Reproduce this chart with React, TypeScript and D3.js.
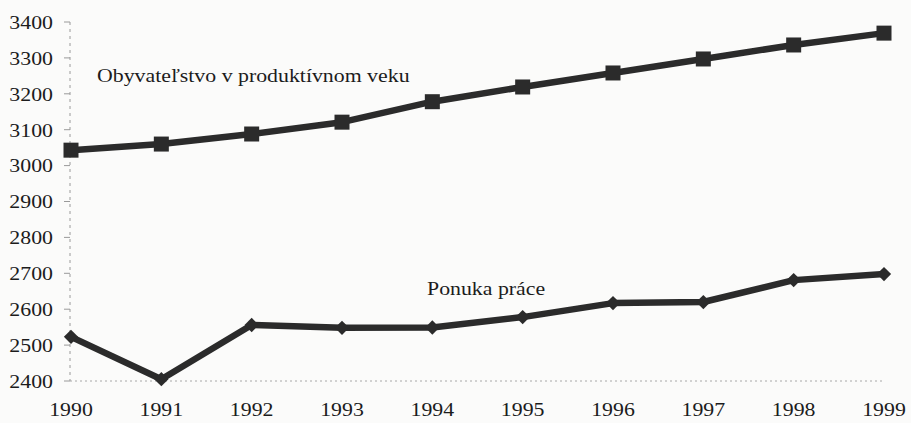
import React from "react";
import * as d3 from "d3";

const years = [1990, 1991, 1992, 1993, 1994, 1995, 1996, 1997, 1998, 1999];
const population = [3043, 3060, 3088, 3121, 3178, 3219, 3258, 3297, 3336, 3369];
const laborSupply = [2523, 2405, 2556, 2548, 2549, 2578, 2617, 2620, 2681, 2698];
const yTicks = [2400, 2500, 2600, 2700, 2800, 2900, 3000, 3100, 3200, 3300, 3400];
const populationLabel = "Obyvateľstvo v produktívnom veku";
const laborLabel = "Ponuka práce";

const W = 911;
const H = 423;
const SX = 1.12;

export default function App() {
  const x = d3.scaleLinear().domain([1990, 1999]).range([71, 884]);
  const y = d3.scaleLinear().domain([2400, 3400]).range([381, 22]);
  const line = d3
    .line<number>()
    .x((_, i) => x(years[i]))
    .y((d) => y(d));
  const font = "Liberation Serif";
  const ink = "#2b2b2b";
  const txt = "#1c1c1c";
  const diamond = d3.symbol().type(d3.symbolDiamond2).size(130)();

  return (
    <div style={{ position: "absolute", left: 0, top: 0 }}>
      <svg width={W} height={H} style={{ display: "block", background: "#fbfbfa" }}>
        {/* axes */}
        <line x1={70} x2={70} y1={y(3400)} y2={y(2400)} stroke="#9a9a9a" strokeWidth={1} strokeDasharray="3,4" />
        <line x1={70} x2={884} y1={y(2400)} y2={y(2400)} stroke="#a8a8a8" strokeWidth={1} strokeDasharray="2,3" />
        {yTicks.map((t) => (
          <g key={t}>
            <line x1={64} x2={70} y1={y(t)} y2={y(t)} stroke="#9a9a9a" strokeWidth={1} />
            <g transform={`translate(53,${y(t)}) scale(${SX},1)`}>
              <text x={0} y={0} dy="0.35em" textAnchor="end" fontFamily={font} fontSize={19.5} fill={txt}>
                {t}
              </text>
            </g>
          </g>
        ))}
        {years.map((yr) => (
          <g key={yr} transform={`translate(${x(yr)},416) scale(${SX},1)`}>
            <text x={0} y={0} textAnchor="middle" fontFamily={font} fontSize={19.5} fill={txt}>
              {yr}
            </text>
          </g>
        ))}
        {/* series */}
        <path d={line(population) || ""} fill="none" stroke={ink} strokeWidth={6.5} strokeLinejoin="round" />
        <path d={line(laborSupply) || ""} fill="none" stroke={ink} strokeWidth={6.5} strokeLinejoin="round" />
        {population.map((v, i) => (
          <rect key={i} x={x(years[i]) - 7.5} y={y(v) - 7.5} width={15} height={15} fill={ink} />
        ))}
        {laborSupply.map((v, i) => (
          <path key={i} d={diamond || ""} transform={`translate(${x(years[i])},${y(v)})`} fill={ink} />
        ))}
        {/* labels */}
        <g transform={`translate(97,82) scale(${SX},1)`}>
          <text x={0} y={0} fontFamily={font} fontSize={19.5} fill={txt}>
            {populationLabel}
          </text>
        </g>
        <g transform={`translate(427,295) scale(${SX},1)`}>
          <text x={0} y={0} fontFamily={font} fontSize={19.5} fill={txt}>
            {laborLabel}
          </text>
        </g>
      </svg>
    </div>
  );
}
